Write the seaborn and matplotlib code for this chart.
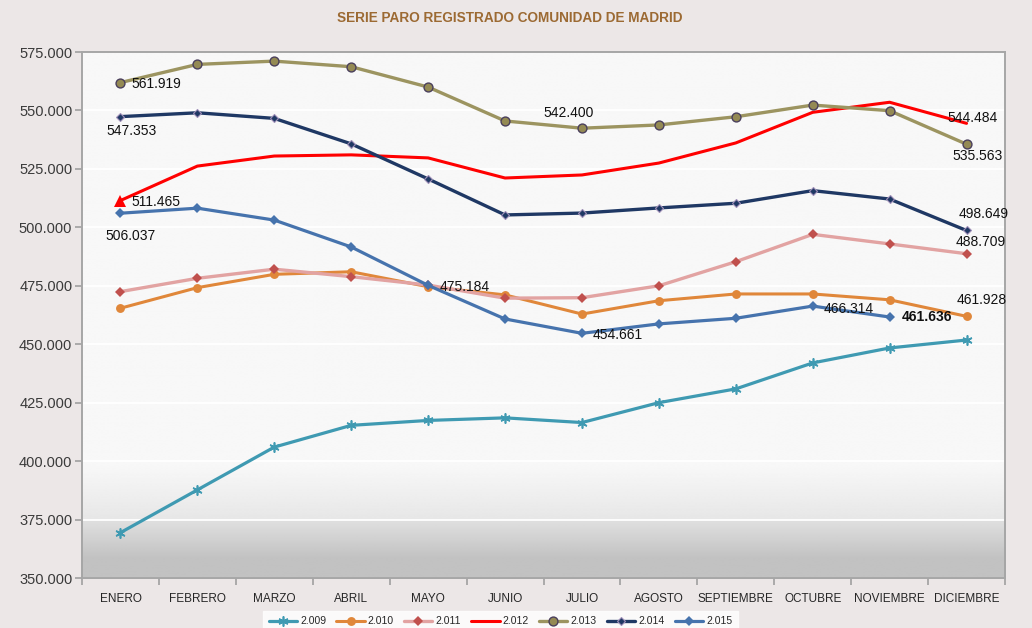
import numpy as np
import pandas as pd
import matplotlib
matplotlib.use("Agg")
import matplotlib.pyplot as plt
import seaborn as sns
from matplotlib.ticker import FuncFormatter
from matplotlib.lines import Line2D

months = ["ENERO", "FEBRERO", "MARZO", "ABRIL", "MAYO", "JUNIO", "JULIO",
          "AGOSTO", "SEPTIEMBRE", "OCTUBRE", "NOVIEMBRE", "DICIEMBRE"]

y2009 = [369400, 387700, 406000, 415300, 417400, 418500, 416500, 425000, 430900, 442000, 448400, 451800]
y2010 = [465400, 474200, 479900, 481000, 474600, 471100, 462900, 468600, 471500, 471500, 469000, 461928]
y2011 = [472500, 478200, 482100, 478900, 475300, 469700, 469900, 475000, 485300, 497000, 492900, 488709]
y2012 = [511465, 526200, 530500, 531000, 529700, 521100, 522400, 527500, 536100, 549200, 553500, 544484]
y2013 = [561919, 569700, 571100, 568700, 560000, 545500, 542400, 543800, 547300, 552300, 549900, 535563]
y2014 = [547353, 549000, 546600, 535700, 520700, 505300, 506100, 508300, 510300, 515700, 512100, 498649]
y2015 = [506037, 508200, 503100, 491600, 475184, 460800, 454661, 458700, 461100, 466314, 461636, np.nan]

series_names = ["2.009", "2.010", "2.011", "2.012", "2.013", "2.014", "2.015"]
series_values = [y2009, y2010, y2011, y2012, y2013, y2014, y2015]

# data labels: (series index, month index, text)
data_labels = [
    (4, 0, "561.919"), (5, 0, "547.353"), (3, 0, "511.465"), (6, 0, "506.037"),
    (4, 6, "542.400"), (6, 4, "475.184"), (6, 6, "454.661"), (6, 9, "466.314"),
    (6, 10, "461.636"), (3, 11, "544.484"), (4, 11, "535.563"), (5, 11, "498.649"),
    (2, 11, "488.709"), (1, 11, "461.928"),
]

title = "SERIE PARO REGISTRADO COMUNIDAD DE MADRID"

# ---------------- styling ----------------
sns.set_theme(style="white")
plt.rcParams["font.family"] = ["Liberation Sans", "DejaVu Sans"]

fig_bg = "#ece7e7"
fig = plt.figure(figsize=(10.32, 6.28), dpi=100, facecolor=fig_bg)
ax = fig.add_axes([82/1032, 50/628, (1005-82)/1032, (578-52)/628])

# gradient background of plot area
n = 600
frac = np.linspace(0, 1, n)  # 0 bottom .. 1 top
vals = np.empty(n)
for i, f in enumerate(frac):
    if f >= 0.21:
        v = 0.969
    elif f >= 0.111:
        t = (0.21 - f) / (0.21 - 0.111)
        v = 0.969 - t * (0.969 - 0.905)
    elif f >= 0.04:
        t = (0.111 - f) / (0.111 - 0.04)
        v = 0.88 - t * (0.88 - 0.765)
    else:
        v = 0.76
    vals[i] = v
grad = np.repeat(vals[::-1][:, None], 2, axis=1)
ax.imshow(grad, cmap="gray", vmin=0, vmax=1, aspect="auto",
          extent=[0, 1, 0, 1], transform=ax.transAxes, zorder=0, interpolation="bilinear")

rows = []
for name, vals_ in zip(series_names, series_values):
    for m, v in zip(months, vals_):
        rows.append({"mes": m, "parados": v, "serie": name})
df = pd.DataFrame(rows)
df["x"] = df["mes"].map({m: i for i, m in enumerate(months)})

styles = {
    "2.009": dict(color="#3f9ab2", marker=(6, 2, 0), markersize=9, markeredgewidth=1.2,
                  markeredgecolor="#3f9ab2", lw=2.3),
    "2.010": dict(color="#e0873a", marker="o", markersize=8, markeredgewidth=0,
                  markeredgecolor="#e0873a", lw=2.2),
    "2.011": dict(color="#e2a3a2", marker="D", markersize=6, markeredgewidth=0,
                  markerfacecolor="#c0504d", markeredgecolor="#c0504d", lw=2.4),
    "2.012": dict(color="#ff0000", marker="^", markersize=8, markeredgewidth=0,
                  markevery=[0], lw=2.2),
    "2.013": dict(color="#9c9460", marker="o", markersize=8, markeredgewidth=1.0,
                  markerfacecolor="#948a54", markeredgecolor="#4a3f5c", lw=2.4),
    "2.014": dict(color="#1f3864", marker="D", markersize=5, markeredgewidth=0.8,
                  markerfacecolor="#1f3864", markeredgecolor="#9f8fb8", lw=2.4),
    "2.015": dict(color="#4673ad", marker="D", markersize=6.5, markeredgewidth=0,
                  markerfacecolor="#4673ad", markeredgecolor="#4673ad", lw=2.3),
}

for name in series_names:
    st = dict(styles[name])
    color = st.pop("color")
    lw = st.pop("lw")
    sub = df[df["serie"] == name]
    sns.lineplot(data=sub, x="x", y="parados", ax=ax, color=color, linewidth=lw,
                 label=name, zorder=3, estimator=None, sort=False, **st)

h, l = ax.get_legend_handles_labels()
new_h = []
for hh, ll in zip(h, l):
    if ll == "2.012":
        new_h.append(Line2D([], [], color="#ff0000", lw=2.2))
    else:
        hh.set_markersize(hh.get_markersize() * 0.8)
        new_h.append(hh)
if ax.get_legend():
    ax.get_legend().remove()
leg = fig.legend(new_h, l, loc="lower center", bbox_to_anchor=(0.485, -0.014), ncol=7,
                 fontsize=7.5, frameon=True, fancybox=False, handlelength=2.7,
                 columnspacing=1.0, handletextpad=0.3, borderpad=0.5)
leg.get_frame().set_facecolor("white")
leg.get_frame().set_edgecolor("white")

# data labels
offsets = {
    (4, 0): (8, -1), (5, 0): (-10, -10), (3, 0): (8, -1),
    (6, 0): (-11, -16.5), (4, 6): (-28, 11), (6, 4): (8, -1.5),
    (6, 6): (8, -1.5), (6, 9): (8, -2), (6, 10): (9, 0),
    (3, 11): (-14, 3.5), (4, 11): (-10, -8.5), (5, 11): (-6, 12),
    (2, 11): (-8, 8.5), (1, 11): (-7, 11.5),
}
for si, mi, txt in data_labels:
    dx, dy = offsets[(si, mi)]
    ax.annotate(txt, xy=(mi, series_values[si][mi]), xytext=(dx, dy),
                textcoords="offset points", ha="left", va="center", fontsize=10,
                color="#111111", zorder=5,
                fontweight="bold" if (si, mi) == (6, 10) else "normal")

# axes
ax.set_xlim(-0.5, 11.5)
ax.set_ylim(350000, 575000)
ax.set_yticks(np.arange(350000, 575001, 25000))
ax.yaxis.set_major_formatter(FuncFormatter(lambda v, p: f"{v:,.0f}".replace(",", ".")))
ax.grid(axis="y", color="white", lw=1.3, zorder=1)
ax.grid(axis="x", visible=False)
ax.set_axisbelow(True)
ax.set_xticks(range(12))
ax.set_xticklabels(months, fontsize=8.5, color="#262626")
ax.set_xticks(np.arange(-0.5, 12, 1), minor=True)
ax.tick_params(axis="x", which="major", length=0, pad=11)
ax.tick_params(axis="x", which="minor", length=5, color="#a0a0a0", width=1.2, bottom=True)
ax.tick_params(axis="y", length=5, color="#a0a0a0", width=1.2, left=True, labelsize=10.5,
               labelcolor="#3a3a3a", pad=2)
for s in ax.spines.values():
    s.set_color("#a6a6a6")
    s.set_linewidth(1.4)
ax.set_xlabel("")
ax.set_ylabel("")

fig.text(0.494, 0.971, title, ha="center", va="center", fontsize=9.8, fontweight="bold",
         color="#9c6a33")

fig.savefig("out.png", dpi=100, facecolor=fig_bg)
